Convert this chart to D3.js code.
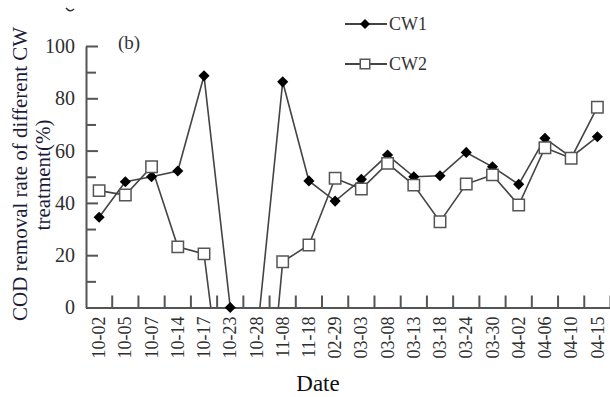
<!DOCTYPE html>
<html>
<head>
<meta charset="utf-8">
<script src="https://d3js.org/d3.v7.min.js"></script>
<style>
  body { margin: 0; background: #fff; }
  svg { font-family: "Liberation Serif", "Times New Roman", serif; }
</style>
</head>
<body>
<svg id="vis"></svg>
<script>
    // data
    var dates = ["10-02","10-05","10-07","10-14","10-17","10-23","10-28","11-08","11-18","02-29",
                 "03-03","03-08","03-13","03-18","03-24","03-30","04-02","04-06","04-10","04-15"];
    var cw1 = [34.5, 48.1, 50.0, 52.2, 88.6, 0, -13, 86.3, 48.4, 40.7,
               49.0, 58.3, 50.0, 50.4, 59.3, 53.8, 47.1, 64.7, 57.5, 65.3];
    var cw2 = [44.7, 43.0, 53.8, 23.2, 20.5, -59, -90, 17.5, 23.9, 49.4,
               45.3, 55.1, 46.8, 32.8, 47.2, 50.7, 39.2, 61.1, 57.1, 76.6];
    var yMajor = [0, 20, 40, 60, 80, 100];
    var yMinor = [10, 30, 50, 70, 90];

    var W = 610, H = 397;
    var plotLeft = 86, plotRight = 610.5, plotTop = 46, plotBottom = 307.5;

    var svg = d3.select("#vis").attr("width", W).attr("height", H);

    var x = d3.scaleBand().domain(dates).range([plotLeft, plotRight]);
    var y = d3.scaleLinear().domain([0, 100]).range([plotBottom, plotTop]);

    var axisColor = "#555";
    var labelColor = "#2e2e2e";

    // clip so values below zero disappear under the axis
    svg.append("clipPath").attr("id", "plotclip")
        .append("rect")
        .attr("x", plotLeft).attr("y", 0)
        .attr("width", plotRight - plotLeft).attr("height", plotBottom);

    // Y axis (ticks point inward)
    var yAxis = svg.append("g")
        .attr("transform", "translate(" + plotLeft + ",0)")
        .call(d3.axisLeft(y).tickValues(yMajor).tickSize(-12).tickSizeOuter(0).tickPadding(11));
    yAxis.select(".domain").attr("stroke", axisColor).attr("stroke-width", 2);
    yAxis.selectAll(".tick line").attr("stroke", axisColor).attr("stroke-width", 2);
    yAxis.selectAll(".tick text")
        .attr("fill", labelColor)
        .style("font-size", "20px")
        .style("font-family", "Liberation Serif");

    var yMinorAxis = svg.append("g")
        .attr("transform", "translate(" + plotLeft + ",0)")
        .call(d3.axisLeft(y).tickValues(yMinor).tickSize(-10).tickSizeOuter(0).tickFormat(""));
    yMinorAxis.select(".domain").remove();
    yMinorAxis.selectAll(".tick line").attr("stroke", axisColor).attr("stroke-width", 2);

    // X axis
    var xAxis = svg.append("g")
        .attr("transform", "translate(0," + plotBottom + ")")
        .call(d3.axisBottom(x).tickSize(0).tickSizeOuter(0));
    xAxis.select(".domain").attr("stroke", axisColor).attr("stroke-width", 2);
    xAxis.selectAll(".tick text")
        .attr("fill", labelColor)
        .style("font-size", "18px")
        .style("font-family", "Liberation Serif")
        .attr("transform", "rotate(-90)")
        .attr("text-anchor", "end")
        .attr("x", -9)
        .attr("y", 0)
        .attr("dy", "0.34em");

    // x ticks sit on the band boundaries and point up
    svg.append("g")
        .selectAll("line")
        .data(dates)
        .enter()
        .append("line")
        .attr("x1", function(d) { return x(d) + x.bandwidth(); })
        .attr("x2", function(d) { return x(d) + x.bandwidth(); })
        .attr("y1", plotBottom)
        .attr("y2", plotBottom - 12)
        .attr("stroke", axisColor)
        .attr("stroke-width", 2);

    // axis titles
    svg.append("text")
        .attr("transform", "translate(27,174) rotate(-90)")
        .attr("text-anchor", "middle")
        .attr("fill", "#1c1c3a")
        .style("font-size", "21px")
        .text("COD removal rate of different CW");
    svg.append("text")
        .attr("transform", "translate(50,175) rotate(-90)")
        .attr("text-anchor", "middle")
        .attr("fill", "#1c1c3a")
        .style("font-size", "21px")
        .text("treatment(%)");

    svg.append("text")
        .attr("x", 318)
        .attr("y", 391)
        .attr("text-anchor", "middle")
        .attr("fill", "#111")
        .style("font-size", "23px")
        .text("Date");

    svg.append("text")
        .attr("x", 118)
        .attr("y", 49)
        .attr("fill", "#333")
        .style("font-size", "19px")
        .text("(b)");

    // stray mark at the top left of the crop
    svg.append("path")
        .attr("d", "M66,8 Q70,13 74,9")
        .attr("fill", "none")
        .attr("stroke", "#333")
        .attr("stroke-width", 1.5);

    // lines
    var cx = function(i) { return x(dates[i]) + x.bandwidth() / 2; };
    var line = d3.line()
        .x(function(d, i) { return cx(i); })
        .y(function(d) { return y(d); });

    var plot = svg.append("g").attr("clip-path", "url(#plotclip)");
    plot.append("path")
        .datum(cw1)
        .attr("d", line)
        .attr("fill", "none")
        .attr("stroke", "#444")
        .attr("stroke-width", 1.6);
    plot.append("path")
        .datum(cw2)
        .attr("d", line)
        .attr("fill", "none")
        .attr("stroke", "#444")
        .attr("stroke-width", 1.6);

    var diamond = d3.symbol().type(d3.symbolSquare).size(62);
    var square = d3.symbol().type(d3.symbolSquare).size(130);

    // CW1 markers
    svg.append("g")
        .selectAll("path")
        .data(cw1.map(function(v, i) { return {v: v, i: i}; }).filter(function(d) { return d.v >= 0; }))
        .enter()
        .append("path")
        .attr("d", diamond)
        .attr("transform", function(d) { return "translate(" + cx(d.i) + "," + y(d.v) + ") rotate(45)"; })
        .attr("fill", "#000");

    // CW2 markers
    svg.append("g")
        .selectAll("path")
        .data(cw2.map(function(v, i) { return {v: v, i: i}; }).filter(function(d) { return d.v >= 0; }))
        .enter()
        .append("path")
        .attr("d", square)
        .attr("transform", function(d) { return "translate(" + cx(d.i) + "," + y(d.v) + ")"; })
        .attr("fill", "#fff")
        .attr("stroke", "#555")
        .attr("stroke-width", 1.5);

    // legend
    var legend = svg.append("g");
    var legendItems = [{name: "CW1", y: 24}, {name: "CW2", y: 64}];
    legend.selectAll("line")
        .data(legendItems)
        .enter()
        .append("line")
        .attr("x1", 345).attr("x2", 387)
        .attr("y1", function(d) { return d.y; })
        .attr("y2", function(d) { return d.y; })
        .attr("stroke", "#444")
        .attr("stroke-width", 2);
    legend.append("path")
        .attr("d", d3.symbol().type(d3.symbolSquare).size(50))
        .attr("transform", "translate(365,24) rotate(45)")
        .attr("fill", "#000");
    legend.append("path")
        .attr("d", d3.symbol().type(d3.symbolSquare).size(90))
        .attr("transform", "translate(365,64)")
        .attr("fill", "#fff")
        .attr("stroke", "#555")
        .attr("stroke-width", 1.5);
    legend.selectAll("text")
        .data(legendItems)
        .enter()
        .append("text")
        .attr("x", 389)
        .attr("y", function(d) { return d.y + 6; })
        .attr("fill", "#333")
        .style("font-size", "18px")
        .text(function(d) { return d.name; });
</script>
</body>
</html>
